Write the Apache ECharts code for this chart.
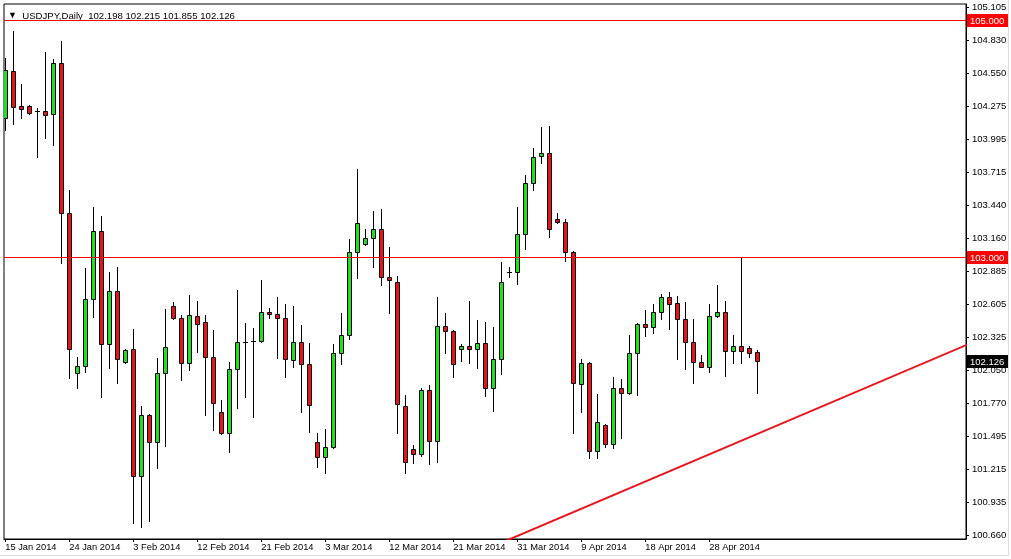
<!DOCTYPE html>
<html><head><meta charset="utf-8">
<script src="https://cdn.jsdelivr.net/npm/echarts@6/dist/echarts.min.js"></script>
<style>html,body{margin:0;padding:0;background:#fff}#c{width:1011px;height:559px}</style>
</head><body><div id="c"></div>
<script>
const dates = [
 '15 Jan 2014','16 Jan 2014','17 Jan 2014','19 Jan 2014','20 Jan 2014','21 Jan 2014','22 Jan 2014','23 Jan 2014','24 Jan 2014',
 '26 Jan 2014','27 Jan 2014','28 Jan 2014','29 Jan 2014','30 Jan 2014','31 Jan 2014','2 Feb 2014','3 Feb 2014',
 '4 Feb 2014','5 Feb 2014','6 Feb 2014','7 Feb 2014','9 Feb 2014','10 Feb 2014','11 Feb 2014','12 Feb 2014',
 '13 Feb 2014','14 Feb 2014','16 Feb 2014','17 Feb 2014','18 Feb 2014','19 Feb 2014','20 Feb 2014','21 Feb 2014',
 '23 Feb 2014','24 Feb 2014','25 Feb 2014','26 Feb 2014','27 Feb 2014','28 Feb 2014','2 Mar 2014','3 Mar 2014',
 '4 Mar 2014','5 Mar 2014','6 Mar 2014','7 Mar 2014','9 Mar 2014','10 Mar 2014','11 Mar 2014','12 Mar 2014',
 '13 Mar 2014','14 Mar 2014','16 Mar 2014','17 Mar 2014','18 Mar 2014','19 Mar 2014','20 Mar 2014','21 Mar 2014',
 '23 Mar 2014','24 Mar 2014','25 Mar 2014','26 Mar 2014','27 Mar 2014','28 Mar 2014','30 Mar 2014','31 Mar 2014',
 '1 Apr 2014','2 Apr 2014','3 Apr 2014','4 Apr 2014','6 Apr 2014','7 Apr 2014','8 Apr 2014','9 Apr 2014',
 '10 Apr 2014','11 Apr 2014','13 Apr 2014','14 Apr 2014','15 Apr 2014','16 Apr 2014','17 Apr 2014','18 Apr 2014',
 '20 Apr 2014','21 Apr 2014','22 Apr 2014','23 Apr 2014','24 Apr 2014','25 Apr 2014','27 Apr 2014','28 Apr 2014',
 '29 Apr 2014','30 Apr 2014','1 May 2014','2 May 2014','4 May 2014','5 May 2014'
];
const open = [
 104.175,104.570,104.275,104.275,104.233,104.233,104.208,104.638,103.374,102.025,
 102.084,102.649,103.222,102.269,102.716,102.118,102.227,101.157,101.671,101.444,
 102.025,102.590,102.489,102.110,102.506,102.455,102.160,101.697,101.520,102.059,
 102.278,102.286,102.295,102.539,102.522,102.489,102.135,102.286,102.101,101.444,
 101.317,101.402,102.194,102.345,103.045,103.112,103.163,103.239,102.834,102.792,
 101.747,101.385,101.343,101.882,101.452,102.421,102.379,102.227,102.253,102.227,
 102.278,101.899,102.143,102.876,102.876,103.197,103.626,103.854,103.879,103.323,
 103.298,103.045,101.933,102.110,101.368,101.587,101.427,101.899,101.857,102.194,
 102.438,102.413,102.539,102.666,102.615,102.480,102.286,102.118,102.076,102.506,
 102.539,102.211,102.253,102.236,102.198
];
const high = [
 104.680,104.907,104.460,104.284,104.258,104.730,104.671,104.823,103.567,102.160,
 102.910,103.424,103.348,102.876,102.918,102.227,102.396,101.747,101.680,102.152,
 102.565,102.624,102.514,102.683,102.632,102.514,102.387,101.798,102.118,102.725,
 102.446,102.404,102.809,102.573,102.666,102.607,102.590,102.430,102.278,101.520,
 101.553,102.269,102.531,103.155,103.744,103.239,103.390,103.407,103.087,102.843,
 101.840,101.419,101.899,101.924,102.666,102.531,102.385,102.269,102.632,102.472,
 102.455,102.413,102.961,102.918,103.424,103.694,103.921,104.098,104.107,103.374,
 103.323,103.053,102.143,102.118,101.848,101.596,101.992,101.975,102.345,102.446,
 102.556,102.607,102.691,102.708,102.674,102.624,102.480,102.177,102.607,102.767,
 102.632,102.345,103.003,102.253,102.215
];
const low = [
 104.073,104.123,104.175,104.212,103.845,104.006,103.947,102.952,101.983,101.899,
 102.033,102.497,101.823,102.067,101.941,102.110,100.761,100.728,100.778,101.225,
 101.410,102.480,101.966,102.050,102.202,101.671,101.545,101.511,101.360,101.730,
 101.823,101.654,102.290,102.489,102.152,101.992,102.076,101.697,101.528,101.233,
 101.183,101.393,102.101,102.312,102.826,103.108,102.918,102.767,102.531,101.520,
 101.183,101.267,101.326,101.258,101.275,102.194,101.992,102.126,102.110,102.067,
 101.832,101.705,102.017,102.834,102.775,103.070,103.567,103.795,103.171,103.289,
 102.969,101.520,101.697,101.309,101.309,101.402,101.393,101.478,101.850,101.840,
 102.337,102.362,102.480,102.396,102.143,102.059,101.941,102.072,102.033,102.500,
 102.000,102.110,102.110,102.160,101.855
];
const close = [
 104.579,104.267,104.252,104.216,104.225,104.199,104.638,103.374,102.227,102.084,
 102.649,103.222,102.269,102.716,102.143,102.219,101.157,101.671,101.444,102.025,
 102.244,102.489,102.110,102.514,102.438,102.160,101.772,101.520,102.059,102.286,
 102.286,102.295,102.539,102.522,102.489,102.143,102.286,102.101,101.755,101.317,
 101.402,102.194,102.345,103.045,103.289,103.163,103.239,102.834,102.809,101.764,
 101.275,101.343,101.882,101.452,102.421,102.379,102.101,102.253,102.227,102.278,
 101.899,102.143,102.792,102.880,103.197,103.626,103.845,103.879,103.239,103.298,
 103.045,101.941,102.110,101.368,101.612,101.427,101.899,101.857,102.194,102.438,
 102.413,102.539,102.666,102.607,102.480,102.286,102.118,102.076,102.506,102.539,
 102.211,102.253,102.211,102.194,102.126
];
const yTickLabels = [105.105,104.830,104.550,104.275,103.995,103.715,103.440,103.160,102.885,102.605,102.325,102.050,101.770,101.495,101.215,100.935,100.660];
const xTickIndex = [0,8,16,24,32,40,48,56,64,72,80,88];
const levelLines = [105.000, 103.000];
const trendLine = [[60.0, 100.537],[123.0, 102.343]];
const symbol = 'USDJPY,Daily';

const FONT = 'Liberation Sans, Arial, sans-serif';
const GREEN = '#1ee01e', RED = '#e61414', LEVEL = '#ff0000';
const last = close.length - 1;
const candleData = open.map((o, i) => [i, o, close[i], low[i], high[i]]);
// [value, draw line?, box colour]
const priceTags = levelLines.map(v => [v, 1, '#ff0000']).concat([[close[last], 0, '#000000']]);

function renderCandle(params, api) {
  const i = api.value(0);
  const o = api.coord([i, api.value(1)]);
  const c = api.coord([i, api.value(2)]);
  const l = api.coord([i, api.value(3)]);
  const h = api.coord([i, api.value(4)]);
  const cx = Math.round(o[0]) + 0.5;
  const up = api.value(2) >= api.value(1);
  let top = Math.round(Math.min(o[1], c[1]));
  let bot = Math.round(Math.max(o[1], c[1]));
  const children = [{
    type: 'line',
    shape: { x1: cx, y1: Math.round(h[1]), x2: cx, y2: Math.round(l[1]) + 1 },
    style: { stroke: '#000', lineWidth: 1 }
  }];
  if (bot - top < 2) {
    children.push({ type: 'line', shape: { x1: cx - 2.5, y1: top + 0.5, x2: cx + 2.5, y2: top + 0.5 }, style: { stroke: '#000', lineWidth: 1 } });
  } else {
    children.push({
      type: 'rect',
      shape: { x: cx - 2, y: top + 0.5, width: 4, height: bot - top },
      style: { fill: up ? GREEN : RED, stroke: '#000', lineWidth: 1 }
    });
  }
  return { type: 'group', children };
}

function renderTag(params, api) {
  const v = api.value(0);
  const cs = params.coordSys;
  const y = Math.round(api.coord([0, v])[1]);
  const children = [];
  if (api.value(1)) {
    children.push({ type: 'rect', shape: { x: cs.x, y: y, width: cs.width, height: 1 }, style: { fill: LEVEL, stroke: null } });
  }
  const bx = cs.x + cs.width + 1;
  children.push({ type: 'rect', shape: { x: bx, y: y - 6, width: 41, height: 13 }, style: { fill: priceTags[params.dataIndex][2] } });
  children.push({ type: 'text', x: bx + 3, y: y + 1, style: { text: v.toFixed(3), fill: '#fff', font: '9.5px ' + FONT, verticalAlign: 'middle', align: 'left' } });
  return { type: 'group', children };
}

const chart = echarts.init(document.getElementById('c'), null, { renderer: 'canvas' });
chart.setOption({
  animation: false,
  backgroundColor: '#fff',
  title: {
    text: '{a|▼}  ' + symbol + '  ' + [open[last], high[last], low[last], close[last]].map(v => v.toFixed(3)).join(' '),
    left: 3, top: 6,
    textStyle: { fontSize: 9.6, fontWeight: 'normal', color: '#000', fontFamily: FONT, rich: { a: { fontSize: 9, color: '#000' } } }
  },
  graphic: [
    { type: 'line', shape: { x1: 0, y1: 555.5, x2: 1008, y2: 555.5 }, style: { stroke: '#dcdcdc', lineWidth: 1 }, silent: true },
    { type: 'line', shape: { x1: 1008.5, y1: 0, x2: 1008.5, y2: 556 }, style: { stroke: '#dcdcdc', lineWidth: 1 }, silent: true }
  ],
  grid: { left: 4, right: 45, top: 4, bottom: 20, show: true, borderColor: '#000', borderWidth: 1, backgroundColor: '#fff' },
  xAxis: {
    type: 'value', min: -0.1625, max: 120.0875,
    splitLine: { show: false },
    axisLine: { show: true, onZero: false, lineStyle: { color: '#000', width: 1 } },
    axisTick: { show: true, length: 3, lineStyle: { color: '#000' }, customValues: xTickIndex },
    axisLabel: { customValues: xTickIndex, formatter: v => dates[Math.round(v)] || '', align: 'left', color: '#000', fontSize: 9.3, fontFamily: FONT, margin: 4 }
  },
  yAxis: {
    type: 'value', position: 'right', min: 100.6262, max: 105.1348, scale: true,
    splitLine: { show: false },
    axisLine: { show: true, onZero: false, lineStyle: { color: '#000', width: 1 } },
    axisTick: { show: true, inside: false, length: 3, lineStyle: { color: '#000' }, customValues: yTickLabels },
    axisLabel: { customValues: yTickLabels, formatter: v => v.toFixed(3), color: '#000', fontSize: 9.5, fontFamily: FONT, margin: 6 }
  },
  series: [
    {
      name: 'trend', type: 'line', data: trendLine, symbol: 'none', clip: true, silent: true,
      lineStyle: { color: '#e8141c', width: 2 }, z: 1
    },
    {
      name: 'levels', type: 'custom', renderItem: renderTag, data: priceTags.map(t => [t[0], t[1]]),
      encode: { y: 0 }, clip: false, silent: true, z: 20, zlevel: 1
    },
    {
      name: 'candles', type: 'custom', renderItem: renderCandle, data: candleData, clip: true,
      encode: { x: 0, y: [1, 2, 3, 4] }, z: 3
    }
  ]
});
</script>
</body></html>
